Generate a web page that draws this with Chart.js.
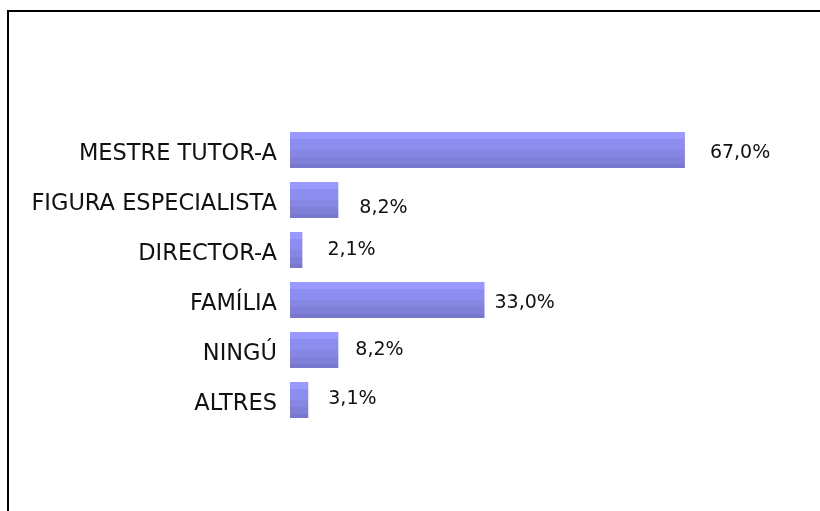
<!DOCTYPE html>
<html>
<head>
<meta charset="utf-8">
<script src="https://cdn.jsdelivr.net/npm/chart.js@4/dist/chart.umd.min.js"></script>
<style>
html,body{margin:0;padding:0;background:#fff;}
#wrap{width:820px;height:511px;position:relative;}
</style>
</head>
<body>
<div id="wrap"><canvas id="c" width="820" height="511"></canvas></div>
<script>
const categories = ["MESTRE TUTOR-A", "FIGURA ESPECIALISTA", "DIRECTOR-A", "FAMÍLIA", "NINGÚ", "ALTRES"];
const percentages = [67.0, 8.2, 2.1, 33.0, 8.2, 3.1];

// label placement tweaks (layout only)
const labelDx = [25, 21, 25, 10, 17, 20];
const labelDy = [3, 8, 0, 3, 0, -1];

const bandStops = [[0, '#9999ff'], [7/36, '#8d8df0'], [18/36, '#8686e3'], [25/36, '#7f7fd8'], [32/36, '#7777cc'], [1, '#7777cc']];

function barFill(ctx) {
  const chart = ctx.chart;
  const y = chart.scales && chart.scales.y;
  if (!chart.chartArea || !y || ctx.dataIndex === undefined) return '#8888ee';
  const c = y.getPixelForValue(ctx.dataIndex);
  const step = (chart.chartArea.bottom - chart.chartArea.top) / categories.length;
  const h = step * 0.72;
  const top = c - h / 2, bot = c + h / 2;
  const g = chart.ctx.createLinearGradient(0, top, 0, bot);
  for (let i = 0; i < bandStops.length; i++) {
    g.addColorStop(bandStops[i][0], bandStops[i][1]);
    if (i + 1 < bandStops.length) g.addColorStop(Math.max(0, bandStops[i + 1][0] - 0.0001), bandStops[i][1]);
  }
  return g;
}

const frame = {
  id: 'frame',
  beforeDraw(chart) {
    const c = chart.ctx;
    c.save();
    c.fillStyle = '#fff';
    c.fillRect(0, 0, chart.width, chart.height);
    c.strokeStyle = '#000';
    c.lineWidth = 2;
    c.strokeRect(8, 11, 1000, 1000);
    c.restore();
  }
};

const valueLabels = {
  id: 'valueLabels',
  afterDatasetsDraw(chart) {
    const c = chart.ctx;
    const meta = chart.getDatasetMeta(0);
    c.save();
    c.font = '19px "DejaVu Sans"';
    c.fillStyle = '#111';
    c.textAlign = 'left';
    c.textBaseline = 'middle';
    meta.data.forEach((el, i) => {
      const txt = percentages[i].toFixed(1).replace('.', ',') + '%';
      c.fillText(txt, el.x + labelDx[i], el.y + labelDy[i]);
    });
    c.restore();
  }
};

new Chart(document.getElementById('c'), {
  type: 'bar',
  data: {
    labels: categories,
    datasets: [{
      data: percentages,
      backgroundColor: barFill,
      borderWidth: 0,
      categoryPercentage: 1,
      barPercentage: 0.72
    }]
  },
  options: {
    indexAxis: 'y',
    responsive: false,
    animation: false,
    devicePixelRatio: 1,
    layout: { padding: { left: 8, right: 29, top: 125, bottom: 86 } },
    plugins: { legend: { display: false }, tooltip: { enabled: false } },
    scales: {
      x: { display: false, min: 0, max: 85 },
      y: {
        grid: { display: false, drawTicks: false },
        border: { display: false },
        ticks: { color: '#111', font: { family: 'DejaVu Sans', size: 22.5 }, padding: 13, labelOffset: 4 },
        afterFit(s) { s.width = 282; }
      }
    }
  },
  plugins: [frame, valueLabels]
});
</script>
</body>
</html>
